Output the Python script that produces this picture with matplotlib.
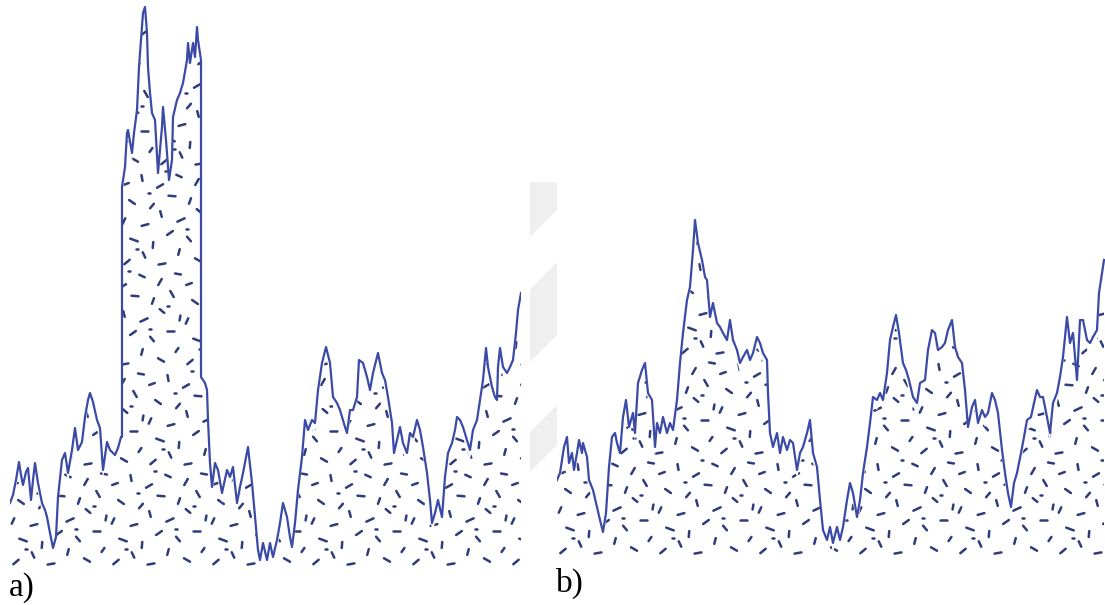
import numpy as np
import matplotlib
matplotlib.use("Agg")
import matplotlib.pyplot as plt
from matplotlib.collections import LineCollection
from matplotlib.patches import Polygon
from matplotlib.transforms import IdentityTransform, Affine2D

# ---------------- data ----------------
# panel a): position along the record and signal height
a_t = [0, 3, 6, 9, 11, 13, 16, 18, 21, 23, 25, 28, 32, 35, 37, 40, 43, 46, 48, 52,
       55, 58, 62, 65, 68, 72, 75, 78, 80, 83, 87, 90, 93, 97, 100, 105, 108, 111, 112, 112,
       115, 117, 118, 122, 124, 127, 129, 132, 133, 135, 137, 138, 140, 142, 145, 148, 152, 153, 156, 159,
       162, 163, 167, 170, 173, 177, 178, 180, 183, 185, 187, 188, 191, 191, 195, 197, 198, 200, 202, 205,
       208, 212, 217, 220, 223, 227, 230, 233, 238, 242, 245, 248, 250, 253, 257, 260, 263, 267, 270, 273,
       277, 280, 282, 285, 288, 292, 295, 298, 302, 305, 308, 312, 316, 320, 323, 327, 330, 335, 337, 340,
       343, 347, 349, 353, 357, 360, 363, 368, 372, 375, 378, 382, 384, 387, 390, 393, 397, 400, 403, 407,
       410, 413, 417, 420, 422, 425, 428, 432, 435, 438, 442, 445, 447, 450, 453, 457, 460, 463, 467, 470,
       473, 476, 478, 482, 485, 487, 488, 490, 493, 497, 500, 503, 506, 508, 511]
a_v = [63, 71, 86, 104, 91, 81, 94, 98, 66, 86, 103, 83, 63, 56, 49, 33, 18, 29, 69, 106,
       113, 93, 116, 138, 116, 124, 149, 166, 173, 164, 146, 138, 96, 124, 116, 111, 118, 129, 129, 379,
       399, 433, 436, 413, 433, 456, 499, 539, 553, 559, 533, 499, 473, 453, 446, 393, 439, 459, 426, 386,
       406, 449, 466, 473, 483, 506, 523, 503, 523, 509, 539, 526, 506, 189, 183, 176, 146, 103, 79, 103,
       96, 73, 96, 89, 99, 63, 79, 93, 119, 83, 49, 16, 6, 23, 6, 23, 9, 26, 43, 63,
       49, 29, 19, 43, 76, 109, 146, 136, 146, 143, 176, 203, 219, 203, 169, 163, 156, 139, 133, 156,
       156, 169, 206, 203, 189, 176, 193, 213, 193, 186, 169, 143, 113, 126, 139, 123, 113, 133, 129, 146,
       136, 119, 93, 66, 43, 53, 66, 49, 89, 113, 123, 136, 149, 146, 139, 126, 116, 136, 146, 166,
       186, 218, 199, 179, 169, 166, 199, 218, 199, 193, 199, 206, 233, 256, 273]

# panel b)
b_t = [0, 3, 7, 10, 12, 15, 17, 20, 22, 25, 26, 30, 32, 36, 40, 43, 46, 49, 52, 55,
       58, 60, 63, 66, 69, 72, 76, 78, 81, 85, 88, 91, 95, 98, 100, 103, 106, 110, 113, 116,
       120, 123, 126, 130, 133, 136, 138, 141, 145, 148, 150, 153, 156, 160, 163, 166, 170, 173, 176, 180,
       183, 186, 190, 193, 196, 200, 203, 206, 210, 211, 213, 216, 220, 223, 226, 230, 233, 236, 240, 243,
       246, 250, 253, 256, 260, 263, 266, 270, 273, 276, 280, 283, 286, 290, 293, 296, 300, 303, 306, 310,
       313, 316, 320, 323, 326, 330, 333, 336, 339, 342, 346, 349, 352, 356, 360, 363, 368, 371, 375, 378,
       381, 385, 388, 391, 395, 398, 401, 405, 408, 411, 415, 418, 421, 425, 428, 431, 435, 438, 441, 445,
       448, 451, 454, 457, 460, 464, 467, 470, 474, 477, 480, 483, 486, 490, 493, 496, 500, 503, 506, 510,
       513, 516, 520, 523, 526, 530, 533, 536, 540, 542, 545, 547]
b_v = [75, 82, 108, 118, 92, 102, 85, 102, 115, 102, 112, 98, 75, 65, 48, 35, 23, 42, 88, 118,
       122, 112, 102, 138, 155, 128, 142, 122, 172, 185, 192, 162, 155, 108, 132, 122, 138, 122, 132, 125,
       155, 192, 222, 255, 268, 305, 335, 312, 295, 278, 275, 238, 252, 232, 228, 222, 215, 235, 215, 205,
       192, 198, 205, 195, 202, 218, 212, 202, 195, 162, 122, 108, 122, 102, 118, 105, 115, 112, 85, 102,
       108, 122, 135, 102, 88, 55, 25, 15, 28, 12, 28, 15, 28, 55, 72, 62, 38, 55, 82, 108,
       132, 158, 155, 162, 155, 182, 215, 228, 240, 222, 192, 185, 175, 158, 152, 172, 175, 205, 225, 222,
       205, 208, 212, 225, 235, 208, 198, 192, 165, 128, 148, 155, 132, 145, 138, 142, 162, 155, 142, 105,
       82, 62, 48, 72, 82, 102, 118, 135, 138, 152, 165, 158, 158, 138, 122, 152, 162, 178, 198, 238,
       212, 222, 175, 235, 235, 215, 212, 218, 225, 262, 282, 295]

labels = ["a)", "b)"]

# ---------------- style ----------------
W, H, DPI = 1105, 605, 100
LINE = "#3a4aa6"
DASH = "#2f3c7c"
WATERMARK = "#efefef"

# one repeating texture tile (px): x, y, angle in degrees, length
TILE = 100
TILE_DASHES = [
    (6, 4, 40, 7), (23, 11, -65, 6), (41, 2, 10, 7), (58, 14, 75, 6), (77, 6, -30, 7), (93, 16, 55, 5),
    (13, 26, -20, 8), (32, 21, 85, 6), (49, 33, 35, 7), (68, 27, -50, 6), (86, 35, 0, 7),
    (3, 45, 65, 6), (24, 41, 15, 7), (40, 52, -75, 6), (60, 46, 25, 8), (78, 55, -40, 6), (96, 48, 80, 5),
    (11, 64, -35, 7), (31, 60, 50, 6), (51, 70, -5, 7), (69, 65, 70, 6), (88, 72, -60, 7),
    (5, 82, 20, 6), (21, 88, -80, 6), (39, 80, 30, 7), (58, 90, -25, 6), (76, 84, 60, 7), (94, 92, -10, 6),
    (16, 17, 0, 2.5), (66, 37, 0, 2.5), (45, 95, 0, 2.5), (84, 60, 0, 2.5), (28, 73, 0, 2.5),
]

fig = plt.figure(figsize=(W / DPI, H / DPI), dpi=DPI)
fig.patch.set_facecolor("white")

# faint watermark between the panels
for pts in ([(530, 182), (557, 182), (557, 210), (530, 237)],
            [(530, 290), (557, 262), (557, 335), (530, 362)],
            [(530, 432), (557, 405), (557, 445), (530, 472)]):
    fig.add_artist(Polygon([(x / W, 1 - y / H) for x, y in pts], closed=True,
                           transform=fig.transFigure, facecolor=WATERMARK,
                           edgecolor="none", zorder=0))


def panel(rect_px, t, v, xmax, ymax, row_shift):
    left, bottom_px, width, top_px = rect_px
    ax = fig.add_axes([left / W, 1 - bottom_px / H, width / W, (bottom_px - top_px) / H])
    ax.set_xlim(0, xmax)
    ax.set_ylim(0, ymax)
    ax.axis("off")
    poly = ax.fill_between(t, v, 0, facecolor="white", edgecolor="none", zorder=1)
    # texture of short dashes, clipped a little below the curve
    bb = ax.bbox
    segs = []
    nrow = int(bb.height // TILE) + 2
    ncol = int(bb.width // TILE) + 3
    for r in range(nrow):
        sh = (r * row_shift) % TILE
        for c in range(ncol):
            ox = bb.x0 + (c - 1) * TILE + sh
            oy = bb.y0 + r * TILE
            for dx, dy, ang, ln in TILE_DASHES:
                cx, cy = ox + dx, oy + dy
                a = np.deg2rad(ang)
                hx, hy = 0.5 * ln * np.cos(a), 0.5 * ln * np.sin(a)
                segs.append([(cx - hx, cy - hy), (cx + hx, cy + hy)])
    lc = LineCollection(segs, colors=DASH, linewidths=1.8, capstyle="round",
                        transform=IdentityTransform(), zorder=2)
    lc.set_clip_path(poly.get_paths()[0], ax.transData + Affine2D().translate(0, -10))
    ax.add_collection(lc, autolim=False)
    ax.plot(t, v, color=LINE, lw=1.6, solid_joinstyle="round", zorder=3)
    return ax


panel((10, 566, 511, 0), a_t, a_v, 511, 566, 37)
panel((557, 555, 548, 0), b_t, b_v, 548, 555, 61)

fig.text(9 / W, 1 - 596 / H, labels[0], fontsize=24, family="Liberation Serif",
         va="baseline", ha="left")
fig.text(556 / W, 1 - 592 / H, labels[1], fontsize=24, family="Liberation Serif",
         va="baseline", ha="left")

fig.savefig("out.png", dpi=DPI, facecolor="white")
